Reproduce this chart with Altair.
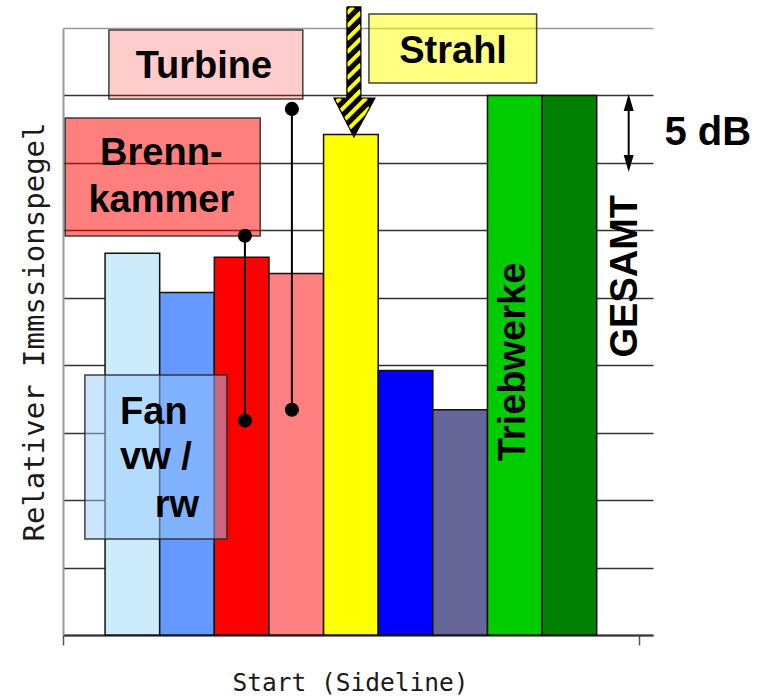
import numpy as np
import pandas as pd
import altair as alt

# ---------------------------------------------------------------- data
sources = ["Fan vorwärts", "Fan rückwärts", "Brennkammer", "Turbine", "Strahl",
           "Hochauftrieb", "Fahrwerk", "Triebwerke", "Gesamt"]
level_db = [28.3, 25.4, 28.0, 26.8, 37.1, 19.6, 16.7, 40.0, 40.0]
fill_colors = ["#CCEBFB", "#6699FF", "#FF0000", "#FF8080", "#FFFF00",
               "#0000FF", "#666699", "#00CC00", "#008000"]
grid_db = list(range(0, 50, 5))          # 5 dB grid

# ---------------------------------------------------------------- layout
W, H = 590, 607
GAP = 0.77                               # empty space at both ends of the category axis
X0, XA, X1 = -GAP, len(sources) + GAP, len(sources) + GAP + 0.26
Y0, Y1 = 0, 45
FONT = "Liberation Sans"
AXIS_FONT = "DejaVu Sans Mono"

xs = alt.Scale(domain=[X0, X1], nice=False, zero=False)
ys = alt.Scale(domain=[Y0, Y1], nice=False, zero=False)

# one axis definition shared by every layer so the merged axes stay intact
X_AXIS = alt.Axis(
    values=[X0, XA], labels=False, ticks=True, tickSize=10, tickColor="#555",
    tickWidth=1.5, domain=True, domainColor="#333", domainWidth=2, grid=False,
    title="Start (Sideline)", titleFont=AXIS_FONT, titleFontSize=24.5,
    titleFontWeight="normal", titleColor="#1a1a1a", titleX=287, titleY=55,
    titleAlign="center", titleBaseline="alphabetic")
Y_AXIS = alt.Axis(
    values=grid_db, labels=False, ticks=False, domain=True, domainColor="#999",
    domainWidth=2, grid=True,
    gridColor={"condition": {"test": f"datum.value >= {Y1}", "value": "#999"},
               "value": "#333"},
    gridWidth=1.3, title="Relativer Immssionspegel", titleFont=AXIS_FONT,
    titleFontSize=29, titleFontWeight="normal", titleColor="#1a1a1a",
    titleX=-20, titleY=H / 2, titleAngle=270, titleAlign="center",
    titleBaseline="alphabetic")


def X(f):
    return alt.X(f, type="quantitative", scale=xs, axis=X_AXIS)


def Y(f):
    return alt.Y(f, type="quantitative", scale=ys, axis=Y_AXIS)


# ---------------------------------------------------------------- bars
bars_df = pd.DataFrame({
    "source": sources,
    "x": np.arange(len(sources)),
    "x2": np.arange(len(sources)) + 1,
    "db": level_db,
    "fill": fill_colors,
})
bars = alt.Chart(bars_df).mark_rect(stroke="#111", strokeWidth=1.5).encode(
    x=X("x"), x2="x2", y=Y("db"), y2=alt.datum(0),
    color=alt.Color("fill:N", scale=None),
)

# ---------------------------------------------------------------- label boxes
boxes_df = pd.DataFrame({
    "name": ["Turbine", "Brennkammer", "Strahl", "Fan"],
    "x": [0.07, -0.73, 4.83, -0.37],
    "x2": [3.62, 2.84, 7.90, 2.23],
    "y": [44.85, 38.33, 46.04, 19.27],
    "y2": [39.74, 29.58, 40.92, 7.12],
    "fill": ["#FF0000", "#FF0000", "#FFFF00", "#99CCFF"],
    "alpha": [0.2, 0.5, 0.5, 0.5],
})
boxes = alt.Chart(boxes_df).mark_rect(stroke="#222", strokeWidth=1.5, strokeOpacity=0.85).encode(
    x=X("x"), x2="x2", y=Y("y"), y2="y2",
    fill=alt.Fill("fill:N", scale=None),
    fillOpacity=alt.FillOpacity("alpha:Q", scale=None),
)

# ---------------------------------------------------------------- lollipop pointers
stems_df = pd.DataFrame({
    "x": [2.56, 3.42],
    "top": [29.6, 39.0],
    "bottom": [15.9, 16.7],
})
stems = alt.Chart(stems_df).mark_rule(color="black", strokeWidth=2).encode(
    x=X("x"), y=Y("top"), y2="bottom")
dots_df = pd.concat([
    stems_df[["x", "top"]].rename(columns={"top": "y"}),
    stems_df[["x", "bottom"]].rename(columns={"bottom": "y"}),
])
dots = alt.Chart(dots_df).mark_circle(color="black", size=200, opacity=1).encode(
    x=X("x"), y=Y("y"))


# ---------------------------------------------------------------- text
def labels(rows, size=38, align="center", angle=0):
    df = pd.DataFrame(rows, columns=["text", "x", "y"])
    return alt.Chart(df).mark_text(
        font=FONT, fontWeight="bold", fontSize=size, align=align,
        baseline="alphabetic", angle=angle, color="black",
    ).encode(x=X("x"), y=Y("y"), text="text:N")


centered = labels([("Turbine", 1.81, 41.3), ("Brenn-", 1.03, 34.84),
                   ("kammer", 1.03, 31.38), ("Strahl", 6.37, 42.38)])
left = labels([("Fan", 0.274, 15.64), ("vw /", 0.274, 12.31)], align="left")
right = labels([("rw", 1.72, 8.75)], align="right")
db_text = labels([("5 dB", 10.24, 36.33)], size=40, align="left")
vertical = labels([("Triebwerke", 7.68, 20.24), ("GESAMT", 9.73, 26.6)], angle=270)

# ---------------------------------------------------------------- striped arrow
AR_SHAFT_L, AR_SHAFT_R = 4.427, 4.683
AR_TOP, AR_NECK = 46.56, 39.81
AR_HEAD_L, AR_HEAD_R = 4.19, 4.94
AR_TIP_X, AR_TIP_Y = 4.555, 36.92
STRIPE_PERIOD = 13.0

PX_X = W / (X1 - X0)
PX_Y = H / (Y1 - Y0)


def to_px(x, y):
    return (x - X0) * PX_X, (Y1 - y) * PX_Y


def to_data(px, py):
    return px / PX_X + X0, Y1 - py / PX_Y


shaft_poly = [(AR_SHAFT_L, AR_TOP), (AR_SHAFT_R, AR_TOP),
              (AR_SHAFT_R, AR_NECK), (AR_SHAFT_L, AR_NECK)]
head_poly = [(AR_HEAD_L, AR_NECK), (AR_HEAD_R, AR_NECK), (AR_TIP_X, AR_TIP_Y)]


def chord(poly, c):
    pts = [to_px(*p) for p in poly]
    hits = []
    for (x1, y1), (x2, y2) in zip(pts, pts[1:] + pts[:1]):
        f1, f2 = x1 + y1 - c, x2 + y2 - c
        if f1 == f2:
            continue
        t = f1 / (f1 - f2)
        if 0 <= t <= 1:
            hits.append((x1 + t * (x2 - x1), y1 + t * (y2 - y1)))
    if len(hits) < 2:
        return None
    hits.sort()
    a, b = hits[0], hits[-1]
    if abs(a[0] - b[0]) < 0.5:
        return None
    return to_data(*a), to_data(*b)


sums = [px + py for px, py in (to_px(*p) for p in shaft_poly + head_poly)]
stripe_rows = []
for c in np.arange(min(sums) + STRIPE_PERIOD / 2, max(sums), STRIPE_PERIOD):
    for poly in (shaft_poly, head_poly):
        seg = chord(poly, c)
        if seg:
            (xa, ya), (xb, yb) = seg
            stripe_rows.append({"x": xa, "y": ya, "x2": xb, "y2": yb})
stripes_df = pd.DataFrame(stripe_rows)

shaft_fill = alt.Chart(pd.DataFrame({"x": [AR_SHAFT_L], "x2": [AR_SHAFT_R],
                                     "y": [AR_TOP], "y2": [AR_NECK]})).mark_rect(
    color="black").encode(x=X("x"), x2="x2", y=Y("y"), y2="y2")
head_fill = alt.Chart(pd.DataFrame({"y": [AR_NECK, AR_TIP_Y],
                                    "x": [AR_HEAD_L, AR_TIP_X],
                                    "x2": [AR_HEAD_R, AR_TIP_X]})).mark_area(
    orient="horizontal", color="black").encode(y=Y("y"), x=X("x"), x2="x2")
stripes = alt.Chart(stripes_df).mark_rule(color="#FFFF00", strokeWidth=4,
                                          strokeCap="butt").encode(
    x=X("x"), y=Y("y"), x2="x2", y2="y2")
outline_pts = [(AR_SHAFT_L, AR_TOP), (AR_SHAFT_L, AR_NECK), (AR_HEAD_L, AR_NECK),
               (AR_TIP_X, AR_TIP_Y), (AR_HEAD_R, AR_NECK), (AR_SHAFT_R, AR_NECK),
               (AR_SHAFT_R, AR_TOP), (AR_SHAFT_L, AR_TOP)]
outline = alt.Chart(pd.DataFrame(
    {"i": range(len(outline_pts)), "x": [p[0] for p in outline_pts],
     "y": [p[1] for p in outline_pts]})).mark_line(
    color="black", strokeWidth=1.2, strokeJoin="miter").encode(
    x=X("x"), y=Y("y"), order="i:Q")

# ---------------------------------------------------------------- 5 dB dimension arrow
DIM_X, DIM_TOP, DIM_BOTTOM = 9.585, 40.11, 34.32
dim_rule = alt.Chart(pd.DataFrame({"x": [DIM_X], "y": [DIM_TOP - 0.6],
                                   "y2": [DIM_BOTTOM + 0.6]})).mark_rule(
    color="black", strokeWidth=2).encode(x=X("x"), y=Y("y"), y2="y2")
head_up = alt.Chart(pd.DataFrame({"x": [DIM_X], "y": [DIM_TOP]})).mark_point(
    shape="M0,0L-0.5,1.7L0.5,1.7Z", size=400, filled=True, color="black",
    opacity=1).encode(x=X("x"), y=Y("y"))
head_down = alt.Chart(pd.DataFrame({"x": [DIM_X], "y": [DIM_BOTTOM]})).mark_point(
    shape="M0,0L-0.5,-1.7L0.5,-1.7Z", size=400, filled=True, color="black",
    opacity=1).encode(x=X("x"), y=Y("y"))

chart = alt.layer(
    bars, boxes, stems, dots, centered, left, right, vertical,
    shaft_fill, head_fill, stripes, outline,
    dim_rule, head_up, head_down, db_text,
).properties(
    width=W, height=H,
    padding={"left": 63, "top": 28, "right": 767 - 63 - W, "bottom": 700 - 28 - H},
    autosize=alt.AutoSizeParams(type="none"),
    background="white",
).configure_view(strokeWidth=0)

chart.save("out.html", embed_options={"renderer": "svg", "actions": False})
